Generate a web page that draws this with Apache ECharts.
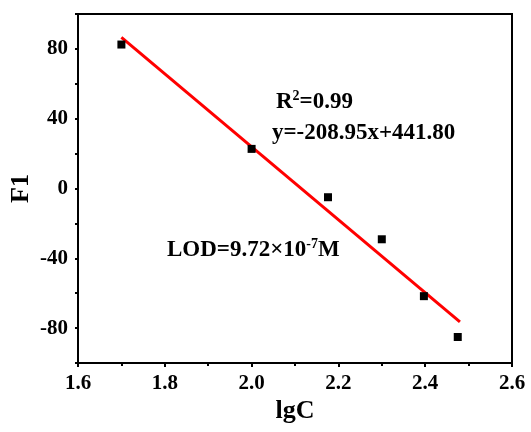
<!DOCTYPE html>
<html>
<head>
<meta charset="utf-8">
<script src="https://cdn.jsdelivr.net/npm/echarts@6/dist/echarts.min.js"></script>
<style>
  html, body { margin: 0; padding: 0; background: #fff; }
  #chart { width: 531px; height: 432px; }
</style>
</head>
<body>
<div id="chart"></div>
<script>
// measured points (lgC, F1)
var lgC = [1.70, 2.00, 2.176, 2.30, 2.397, 2.475];
var f1 = [82.5, 22.7, -5.0, -29.1, -61.7, -85.1];

// fitted line end points
var fitX = [1.70, 2.48];
var fitY = [86.6, -76.4];

var yLabels = [-80, -40, 0, 40, 80];

var font = '"Liberation Serif", "Times New Roman", serif';

var chart = echarts.init(document.getElementById('chart'));

var points = lgC.map(function (x, i) { return [x, f1[i]]; });
var fit = fitX.map(function (x, i) { return [x, fitY[i]]; });

var supStyle = { fontFamily: font, fontWeight: 'bold', fontSize: 14, fill: '#000', verticalAlign: 'top', padding: [0, 0, 12, 0] };
var txtStyle = { fontFamily: font, fontWeight: 'bold', fontSize: 23, fill: '#000' };

var option = {
    animation: false,
    grid: {
        left: 78, right: 19, top: 14, bottom: 69,
        outerBoundsMode: 'none',
        show: true,
        borderColor: '#000',
        borderWidth: 2
    },
    xAxis: {
        type: 'value',
        min: 1.6,
        max: 2.6,
        interval: 0.2,
        name: 'lgC',
        nameLocation: 'middle',
        nameGap: 35,
        nameMoveOverlap: false,
        nameTextStyle: { fontFamily: font, fontWeight: 'bold', fontSize: 26, color: '#000' },
        axisLine: { onZero: false, lineStyle: { color: '#000', width: 2 } },
        axisTick: { length: 4, lineStyle: { color: '#000', width: 2 } },
        minorTick: { show: true, splitNumber: 2, length: 3, lineStyle: { color: '#000', width: 2 } },
        splitLine: { show: false },
        axisLabel: {
            fontFamily: font, fontWeight: 'bold', fontSize: 21, color: '#000', margin: 10,
            formatter: function (v) { return v.toFixed(1); }
        }
    },
    yAxis: {
        type: 'value',
        min: -100,
        max: 100,
        interval: 20,
        name: 'F1',
        nameLocation: 'middle',
        nameGap: 44,
        nameMoveOverlap: false,
        nameTextStyle: { fontFamily: font, fontWeight: 'bold', fontSize: 26, color: '#000' },
        axisLine: { onZero: false, lineStyle: { color: '#000', width: 2 } },
        axisTick: { length: 3, lineStyle: { color: '#000', width: 2 } },
        splitLine: { show: false },
        axisLabel: {
            fontFamily: font, fontWeight: 'bold', fontSize: 21, color: '#000', margin: 10,
            customValues: yLabels
        }
    },
    series: [
        {
            type: 'line',
            data: fit,
            symbol: 'none',
            lineStyle: { color: '#ff0000', width: 3 },
            z: 2
        },
        {
            type: 'scatter',
            data: points,
            symbol: 'rect',
            symbolSize: 8,
            itemStyle: { color: '#000', opacity: 1 },
            z: 3
        }
    ],
    graphic: [
        {
            type: 'text', left: 276, top: 89,
            style: {
                text: '{b|R}{s|2}{b|=0.99}',
                rich: { b: txtStyle, s: supStyle }
            }
        },
        {
            type: 'text', left: 272, top: 122,
            style: { text: 'y=-208.95x+441.80', font: 'bold 23px ' + font, fill: '#000' }
        },
        {
            type: 'text', left: 167, top: 237,
            style: {
                text: '{b|LOD=9.72×10}{s|-7}{b|M}',
                rich: { b: txtStyle, s: supStyle }
            }
        }
    ]
};

chart.setOption(option);
</script>
</body>
</html>
